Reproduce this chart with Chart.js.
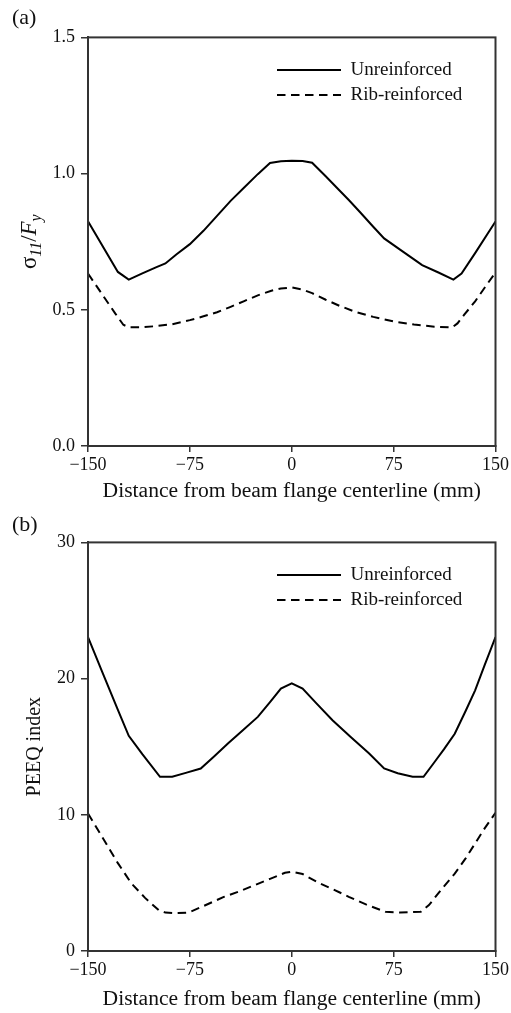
<!DOCTYPE html>
<html>
<head>
<meta charset="utf-8">
<script src="https://cdn.jsdelivr.net/npm/chart.js@4.4.1/dist/chart.umd.min.js"></script>
<style>
  html, body { margin: 0; padding: 0; background: #fff; }
  canvas { display: block; }
</style>
</head>
<body>
<canvas id="chartA" width="511" height="505"></canvas>
<canvas id="chartB" width="511" height="508"></canvas>
<script>
// series names and axis ticks
const seriesNames = ['Unreinforced', 'Rib-reinforced'];
const xTickValues = [-150, -75, 0, 75, 150];
const xTickLabels = ['\u2212150', '\u221275', '0', '75', '150'];
const yTickValuesA = [0, 0.5, 1.0, 1.5];
const yTickLabelsA = ['0.0', '0.5', '1.0', '1.5'];
const yTickValuesB = [0, 10, 20, 30];
const yTickLabelsB = ['0', '10', '20', '30'];

// (a) sigma11 / Fy
const aUnrX = [-150, -128, -120, -110, -100, -93, -85, -75, -65, -55, -45, -35, -25, -16, -8, 0,
               8, 15, 25, 35, 42, 50, 60, 68, 80, 90, 96, 108, 119, 125, 135, 150];
const aUnrY = [0.825, 0.639, 0.611, 0.634, 0.656, 0.670, 0.703, 0.741, 0.790, 0.845, 0.900, 0.949, 0.998, 1.039, 1.045, 1.047,
               1.046, 1.040, 0.990, 0.939, 0.903, 0.860, 0.805, 0.762, 0.720, 0.685, 0.664, 0.637, 0.611, 0.633, 0.708, 0.824];
const aRibX = [-150, -140, -130, -124, -120, -110, -100, -88, -75, -65, -55, -45, -35, -25, -15, -8, 0,
               8, 15, 25, 35, 47, 60, 76, 90, 105, 118, 122, 127, 135, 142, 150];
const aRibY = [0.633, 0.560, 0.487, 0.445, 0.436, 0.436, 0.440, 0.447, 0.462, 0.476, 0.491, 0.511, 0.532, 0.553, 0.570, 0.578, 0.582,
               0.574, 0.561, 0.537, 0.515, 0.492, 0.474, 0.456, 0.446, 0.438, 0.435, 0.450, 0.482, 0.531, 0.581, 0.637];

// (b) PEEQ index
const bUnrX = [-150, -140, -128, -120, -110, -97, -88, -78, -67, -57, -47, -36, -25, -16, -8, 0,
               8, 18, 30, 43, 57, 68, 78, 89, 97, 105, 112, 120, 128, 135, 142, 150];
const bUnrY = [23.05, 20.6, 17.7, 15.8, 14.45, 12.79, 12.79, 13.08, 13.4, 14.3, 15.23, 16.21, 17.19, 18.28, 19.27, 19.65,
               19.27, 18.2, 16.94, 15.75, 14.5, 13.4, 13.05, 12.79, 12.79, 13.86, 14.8, 15.95, 17.62, 19.14, 20.99, 23.05];
const bRibX = [-150, -138, -128, -118, -108, -98, -93, -85, -76, -65, -50, -38, -27, -16, -5, 0,
               8, 20, 30, 42, 55, 69, 80, 95, 101, 110, 120, 128, 135, 142, 150];
const bRibY = [10.1, 8.12, 6.45, 4.96, 3.9, 3.0, 2.82, 2.78, 2.82, 3.3, 3.97, 4.4, 4.85, 5.3, 5.74, 5.82,
               5.65, 5.0, 4.55, 3.98, 3.4, 2.88, 2.83, 2.88, 3.37, 4.5, 5.68, 6.8, 7.9, 9.0, 10.15];

Chart.defaults.font.family = "'Liberation Serif', 'Times New Roman', serif";
Chart.defaults.color = '#111';

const axisColor = '#333';
const serif = "'Liberation Serif', 'Times New Roman', serif";

function toPoints(xs, ys) {
  return xs.map((x, i) => ({ x: x, y: ys[i] }));
}

// full box round the plot area (top and right too)
const frameBox = {
  id: 'frameBox',
  afterDraw(chart) {
    const { ctx, chartArea: a } = chart;
    ctx.save();
    ctx.strokeStyle = axisColor;
    ctx.lineWidth = 2;
    ctx.strokeRect(a.left, a.top, a.right - a.left, a.bottom - a.top);
    ctx.restore();
  }
};

// move the legend inside the plot, upper right
const legendInside = {
  id: 'legendInside',
  afterLayout(chart) {
    const lg = chart.legend, a = chart.chartArea;
    lg.left = a.left + 183;
    lg.right = a.right;
    lg.top = a.top + 17;
    lg.bottom = a.bottom;
  }
};

// y title of (a): sigma_11 / F_y with italic subscripts
const stressLabel = {
  id: 'stressLabel',
  afterDraw(chart) {
    const { ctx, chartArea: a } = chart;
    const parts = [
      ['\u03c3', '23px ' + serif, 0],
      ['11', 'italic 16px ' + serif, 5],
      ['/', '23px ' + serif, 0],
      ['F', 'italic 23px ' + serif, 0],
      ['y', 'italic 16px ' + serif, 5]
    ];
    ctx.save();
    let total = 0;
    parts.forEach(p => { ctx.font = p[1]; total += ctx.measureText(p[0]).width; });
    ctx.translate(36, (a.top + a.bottom) / 2);
    ctx.rotate(-Math.PI / 2);
    ctx.fillStyle = '#111';
    ctx.textBaseline = 'alphabetic';
    let x = -total / 2;
    parts.forEach(p => {
      ctx.font = p[1];
      ctx.fillText(p[0], x, p[2]);
      x += ctx.measureText(p[0]).width;
    });
    ctx.restore();
  }
};

// legend samples take the dash and width of their dataset line
function lineLabels(chart) {
  const items = Chart.defaults.plugins.legend.labels.generateLabels(chart);
  items.forEach(item => {
    const ds = chart.data.datasets[item.datasetIndex];
    item.lineDash = ds.borderDash || [];
    item.lineWidth = ds.borderWidth;
    item.strokeStyle = ds.borderColor;
  });
  return items;
}

function makeChart(id, panel, unr, rib, yMin, yMax, yVals, yLabels, yTitle, xAxisH) {
  const plugins = [frameBox, legendInside];
  if (!yTitle) plugins.push(stressLabel);
  return new Chart(document.getElementById(id), {
    type: 'line',
    data: {
      datasets: [{
        label: seriesNames[0],
        data: unr,
        borderColor: '#000',
        backgroundColor: '#000',
        borderWidth: 2,
        pointRadius: 0,
        tension: 0,
        fill: false
      }, {
        label: seriesNames[1],
        data: rib,
        borderColor: '#000',
        backgroundColor: '#000',
        borderWidth: 2,
        borderDash: [8.5, 5.5],
        pointRadius: 0,
        tension: 0,
        fill: false
      }]
    },
    options: {
      responsive: false,
      animation: false,
      devicePixelRatio: 1,
      events: [],
      layout: { padding: { left: 12, right: 14, top: 0, bottom: 0 } },
      plugins: {
        title: {
          display: true,
          text: panel,
          align: 'start',
          color: '#111',
          font: { size: 22, weight: 'normal' },
          padding: id === 'chartA' ? { top: 5, bottom: 6 } : { top: 7, bottom: 4 }
        },
        legend: {
          display: true,
          position: 'chartArea',
          align: 'start',
          labels: {
            usePointStyle: true,
            pointStyle: 'line',
            pointStyleWidth: 64,
            padding: 6,
            color: '#111',
            font: { size: 19 },
            generateLabels: lineLabels
          }
        },
        tooltip: { enabled: false }
      },
      scales: {
        x: {
          type: 'linear',
          min: -150,
          max: 150,
          afterBuildTicks: s => { s.ticks = xTickValues.map(v => ({ value: v })); },
          afterFit: s => { s.height = xAxisH; },
          ticks: {
            callback: v => xTickLabels[xTickValues.indexOf(v)],
            font: { size: 18 },
            padding: 2,
            maxRotation: 0,
            autoSkip: false,
            color: '#111'
          },
          grid: { drawOnChartArea: false, drawTicks: true, tickLength: 6, tickColor: axisColor, lineWidth: 1.5 },
          border: { display: true, color: axisColor, width: 2 },
          title: {
            display: true,
            text: 'Distance from beam flange centerline (mm)',
            color: '#111',
            font: { size: 21.6 },
            padding: { top: 0, bottom: 1 }
          }
        },
        y: {
          min: yMin,
          max: yMax,
          afterBuildTicks: s => { s.ticks = yVals.map(v => ({ value: v })); },
          afterFit: s => { s.width = 76; },
          ticks: {
            callback: v => yLabels[yVals.indexOf(v)],
            font: { size: 18 },
            padding: 6,
            color: '#111'
          },
          grid: { drawOnChartArea: false, drawTicks: true, tickLength: 7, tickColor: axisColor, lineWidth: 1.5 },
          border: { display: true, color: axisColor, width: 2 },
          title: {
            display: !!yTitle,
            text: yTitle || '',
            color: '#111',
            font: { size: 20 },
            padding: { top: 11, bottom: 0 }
          }
        }
      }
    },
    plugins: plugins
  });
}

makeChart('chartA', '(a)', toPoints(aUnrX, aUnrY), toPoints(aRibX, aRibY),
  0, 1.5, yTickValuesA, yTickLabelsA, null, 59);
makeChart('chartB', '(b)', toPoints(bUnrX, bUnrY), toPoints(bRibX, bRibY),
  0, 30, yTickValuesB, yTickLabelsB, 'PEEQ index', 62);
</script>
</body>
</html>
